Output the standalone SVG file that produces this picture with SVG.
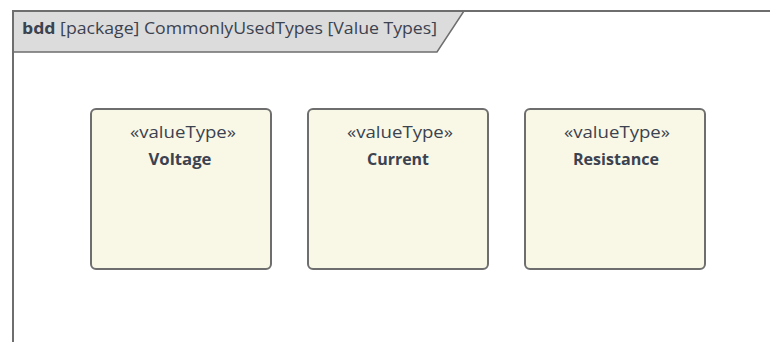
<svg xmlns="http://www.w3.org/2000/svg" width="770" height="342" viewBox="0 0 770 342">
<style>
.frame{fill:none;stroke:#6e6e6e;stroke-width:2}
.hdr{fill:#dcdcdc;stroke:#6e6e6e;stroke-width:1.5}
.box{fill:#f9f8e6;stroke:#6e6e6e;stroke-width:2}
.t{font-family:"Open Sans","Liberation Sans",sans-serif;font-size:16px;fill:#3b4250}
.st{font-family:"Open Sans","Liberation Sans",sans-serif;font-size:16px;fill:#3b4250;text-anchor:middle}
.nm{font-family:"Open Sans","Liberation Sans",sans-serif;font-size:16.5px;font-weight:bold;fill:#3b4250;text-anchor:middle}
</style>
<rect width="770" height="342" fill="#ffffff"/>
<g id="frame">
<path class="hdr" d="M13 11 H464 L437 52 H13 Z"/>
<path class="frame" d="M13 342 V11 H770"/>
<text class="t" x="22" y="34" textLength="415" lengthAdjust="spacingAndGlyphs"><tspan font-weight="bold">bdd</tspan> [package] CommonlyUsedTypes [Value Types]</text>
</g>
<g id="voltage">
<rect class="box" x="91" y="109" width="180" height="160" rx="5"/>
<text class="st" x="183" y="138" textLength="106" lengthAdjust="spacingAndGlyphs">«valueType»</text>
<text class="nm" x="180" y="165" textLength="63" lengthAdjust="spacingAndGlyphs">Voltage</text>
</g>
<g id="current">
<rect class="box" x="308" y="109" width="180" height="160" rx="5"/>
<text class="st" x="400" y="138" textLength="106" lengthAdjust="spacingAndGlyphs">«valueType»</text>
<text class="nm" x="398" y="165" textLength="62" lengthAdjust="spacingAndGlyphs">Current</text>
</g>
<g id="resistance">
<rect class="box" x="525" y="109" width="180" height="160" rx="5"/>
<text class="st" x="617" y="138" textLength="106" lengthAdjust="spacingAndGlyphs">«valueType»</text>
<text class="nm" x="616" y="165" textLength="86" lengthAdjust="spacingAndGlyphs">Resistance</text>
</g>
<g id="connectors"/>
</svg>
